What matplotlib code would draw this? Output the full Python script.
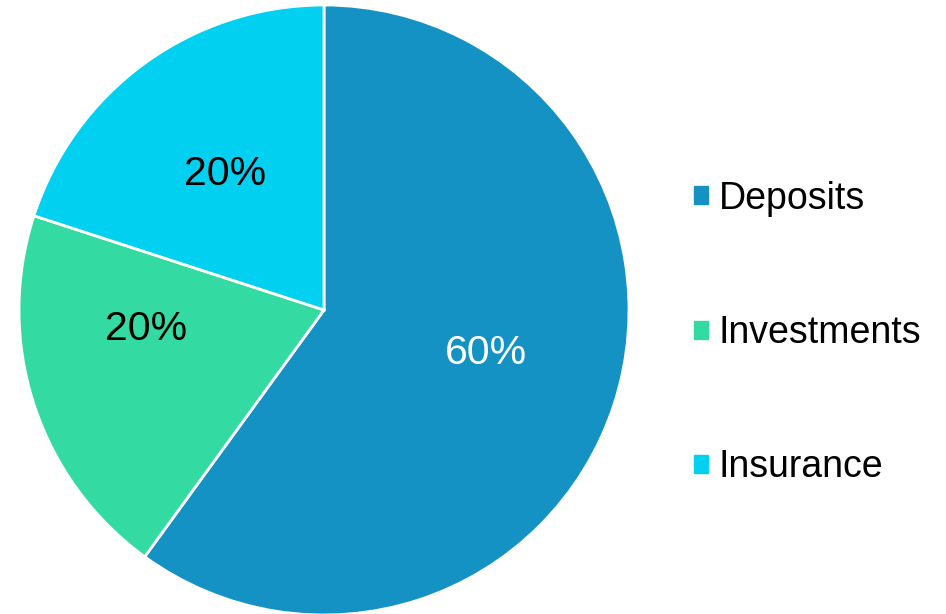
import matplotlib
matplotlib.use("Agg")
import numpy as np
import matplotlib.pyplot as plt
import matplotlib.patches as mpatches

plt.rcParams['font.family'] = ['Liberation Sans', 'DejaVu Sans']

labels = ["Deposits", "Investments", "Insurance"]
shares = [60, 20, 20]
colors = ["#1592C4", "#33DBA2", "#02D0F0"]
pct_colors = ["white", "black", "black"]
# label placement as (radius fraction, angle in degrees) like the original chart
pct_pos = [(0.55, -15), (0.585, 186), (0.55, 126)]

fig = plt.figure(figsize=(9.46, 6.14), dpi=100)
# pie centre ~ (324, 310) px, radius ~ 305 px
W, H = 946, 614
cx, cy, r = 324, 310, 305
ax = fig.add_axes([(cx - r) / W, (H - cy - r) / H, 2 * r / W, 2 * r / H])

wedges, texts, autotexts = ax.pie(
    shares, colors=colors, startangle=90, counterclock=False,
    autopct="%d%%", pctdistance=0.55,
    wedgeprops=dict(edgecolor="white", linewidth=2),
    textprops=dict(fontsize=29.5),
)
for t, c, (pr, pa) in zip(autotexts, pct_colors, pct_pos):
    t.set_color(c)
    t.set_position((pr * np.cos(np.radians(pa)), pr * np.sin(np.radians(pa))))
ax.set_xlim(-1, 1)
ax.set_ylim(-1, 1)
ax.set_aspect("auto")
ax.axis("off")

handles = [mpatches.Patch(color=c, label=l) for c, l in zip(colors, labels)]
fig.legend(handles=handles, loc="center left", bbox_to_anchor=(694 / W, 1 - 333 / H),
           frameon=False, fontsize=27, handlelength=0.36, handleheight=0.36,
           handletextpad=0.3, labelspacing=2.62, borderpad=0, borderaxespad=0)

fig.savefig("out.png", dpi=100)
